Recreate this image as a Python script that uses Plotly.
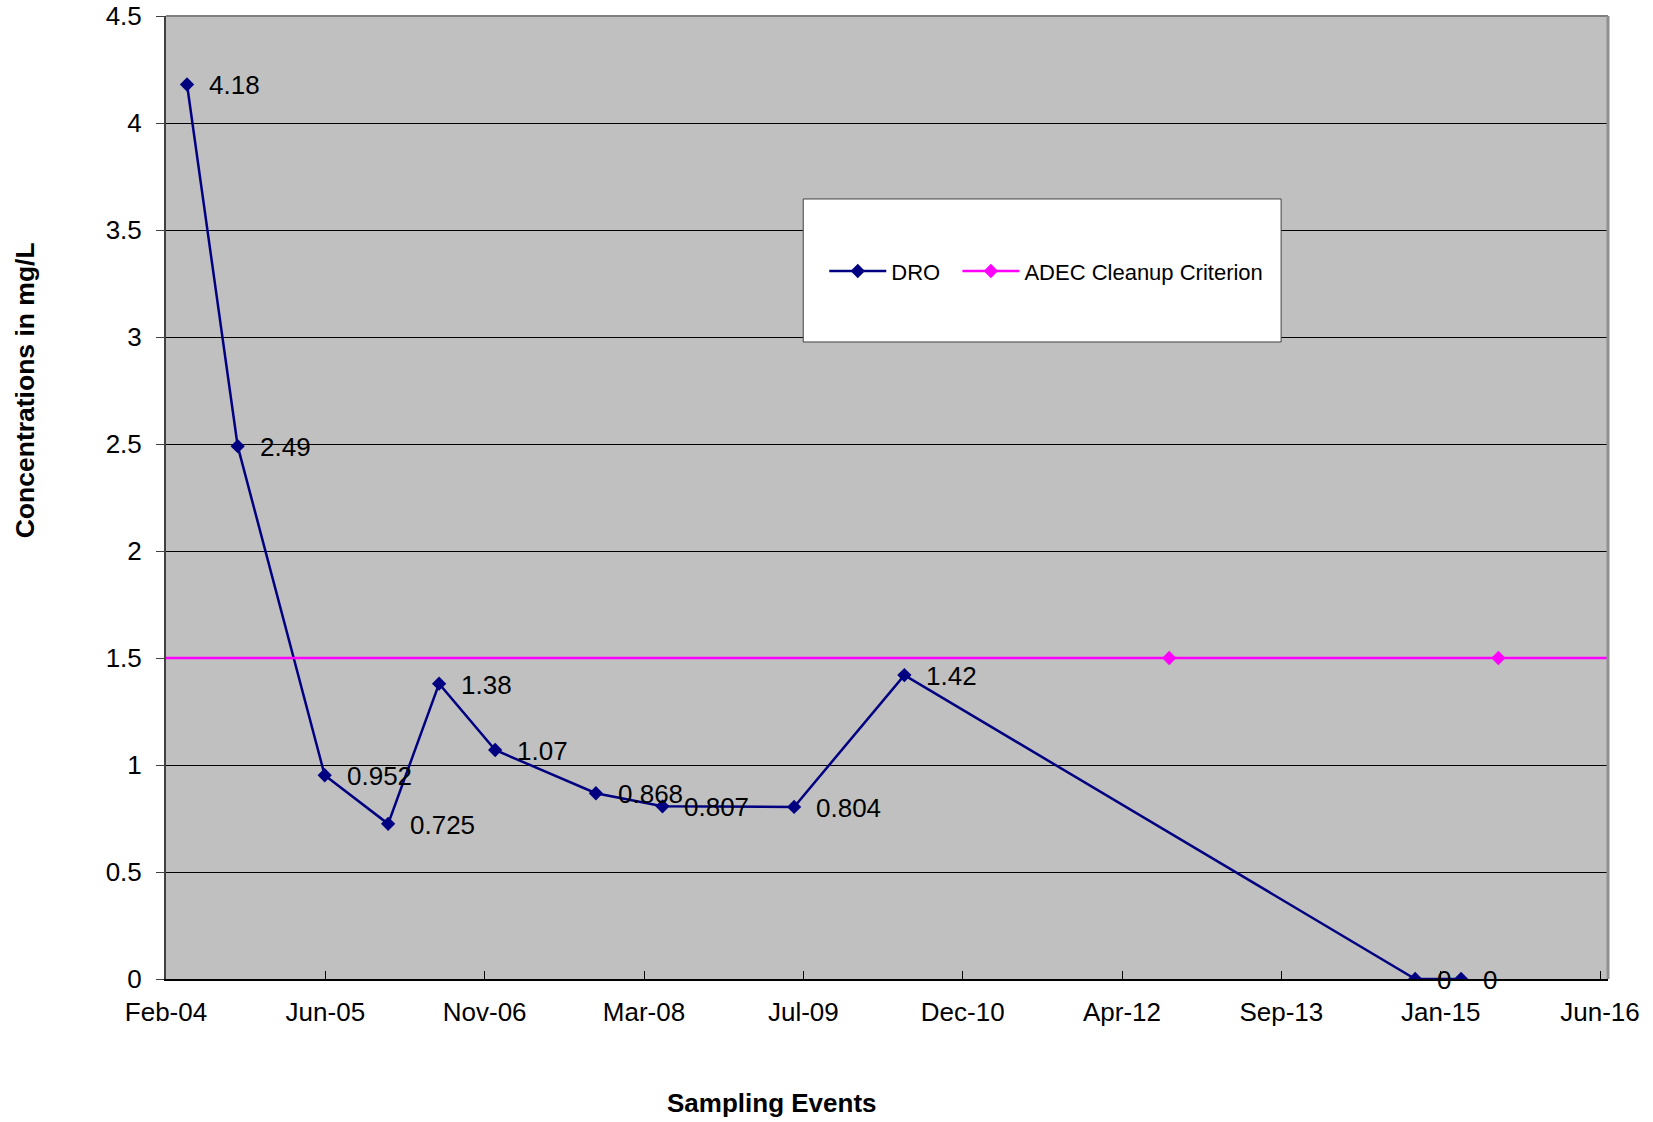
import plotly.graph_objects as go
from datetime import date, timedelta

# DRO sampling results (mg/L)
DRO_DATES = ["2004-04-11", "2004-09-17", "2005-06-17", "2006-01-02", "2006-06-11",
             "2006-12-04", "2007-10-16", "2008-05-12", "2009-06-29", "2010-06-10",
             "2014-10-30", "2015-03-23"]
DRO_VALUES = [4.18, 2.49, 0.952, 0.725, 1.38, 1.07, 0.868, 0.807, 0.804, 1.42, 0, 0]

# ADEC cleanup criterion (mg/L)
ADEC_DATES = ["2003-06-01", "2012-09-18", "2015-07-18", "2017-06-01"]
ADEC_VALUES = [1.5, 1.5, 1.5, 1.5]

# date axis: ticks every 500 days from the axis start
AXIS_START = date(2004, 2, 5)
TICK_STEP_DAYS = 500
AXIS_SPAN_DAYS = 4525
X_TICK_LABELS = ["Feb-04", "Jun-05", "Nov-06", "Mar-08", "Jul-09",
                 "Dec-10", "Apr-12", "Sep-13", "Jan-15", "Jun-16"]
Y_TICKS = [0, 0.5, 1, 1.5, 2, 2.5, 3, 3.5, 4, 4.5]

NAVY = "#000080"
MAGENTA = "#FF00FF"
FONT = "Liberation Sans, Arial, sans-serif"
NBSP = "\u00a0"

tick_vals = [(AXIS_START + timedelta(days=TICK_STEP_DAYS * i)).isoformat()
             for i in range(len(X_TICK_LABELS))]
x_end = (AXIS_START + timedelta(days=AXIS_SPAN_DAYS)).isoformat()

fig = go.Figure()
fig.add_trace(go.Scatter(
    x=DRO_DATES, y=DRO_VALUES, name="DRO" + NBSP * 2, mode="lines+markers",
    line=dict(color=NAVY, width=2.5),
    marker=dict(symbol="diamond", size=11, color=NAVY),
))
fig.add_trace(go.Scatter(
    x=ADEC_DATES, y=ADEC_VALUES, name="ADEC Cleanup Criterion", mode="lines+markers",
    line=dict(color=MAGENTA, width=2.5),
    marker=dict(symbol="diamond", size=11, color=MAGENTA),
))

# value labels beside each DRO point
annotations = [
    dict(x=d, y=v, xref="x", yref="y", text=f"{v:g}", showarrow=False,
         xanchor="left", yanchor="middle", xshift=20, yshift=-1,
         font=dict(family=FONT, size=26, color="black"))
    for d, v in zip(DRO_DATES, DRO_VALUES)
]
annotations += [
    dict(x=0.4204, y=-0.1288, xref="paper", yref="paper", text="<b>Sampling Events</b>",
         showarrow=False, xanchor="center", yanchor="middle",
         font=dict(family=FONT, size=26, color="black")),
    dict(x=-0.0976, y=0.6116, xref="paper", yref="paper",
         text="<b>Concentrations in mg/L</b>", textangle=-90,
         showarrow=False, xanchor="center", yanchor="middle",
         font=dict(family=FONT, size=26.5, color="black")),
]

shapes = [
    # plot-area frame (top and right edges)
    dict(type="line", xref="paper", yref="paper", x0=0, x1=1, y0=1, y1=1,
         line=dict(color="#808080", width=2)),
    dict(type="line", xref="paper", yref="paper", x0=1, x1=1, y0=0, y1=1,
         line=dict(color="#909090", width=3)),
    # legend box
    dict(type="rect", xref="paper", yref="paper", x0=0.4419, x1=0.7733,
         y0=0.6615, y1=0.81, fillcolor="white",
         line=dict(color="#404040", width=1), layer="above"),
]

fig.update_layout(
    width=1653, height=1122, autosize=False,
    margin=dict(l=166, r=45, t=16, b=143),
    paper_bgcolor="white", plot_bgcolor="#C0C0C0",
    font=dict(family=FONT, color="black"),
    showlegend=True,
    legend=dict(orientation="h", x=0.4565, y=0.735, xanchor="left", yanchor="middle",
                bgcolor="rgba(0,0,0,0)", itemwidth=57,
                font=dict(family=FONT, size=22, color="black")),
    annotations=annotations,
    shapes=shapes,
)
fig.update_xaxes(
    type="date", range=[AXIS_START.isoformat(), x_end], automargin=False,
    tickvals=tick_vals, ticktext=X_TICK_LABELS,
    ticks="inside", ticklen=8, tickwidth=1, tickcolor="black",
    showline=True, linecolor="black", linewidth=2,
    showgrid=False, zeroline=False, ticklabelstandoff=9,
    tickfont=dict(family=FONT, size=26, color="black"),
)
fig.update_yaxes(
    range=[0, 4.5], tickvals=Y_TICKS, automargin=False,
    ticks="outside", ticklen=8, tickwidth=1, tickcolor="#404040",
    showline=True, linecolor="#404040", linewidth=2,
    showgrid=True, gridcolor="black", gridwidth=1,
    zeroline=False, ticklabelstandoff=9,
    tickfont=dict(family=FONT, size=26, color="black"),
)

fig.write_html("out.html")
